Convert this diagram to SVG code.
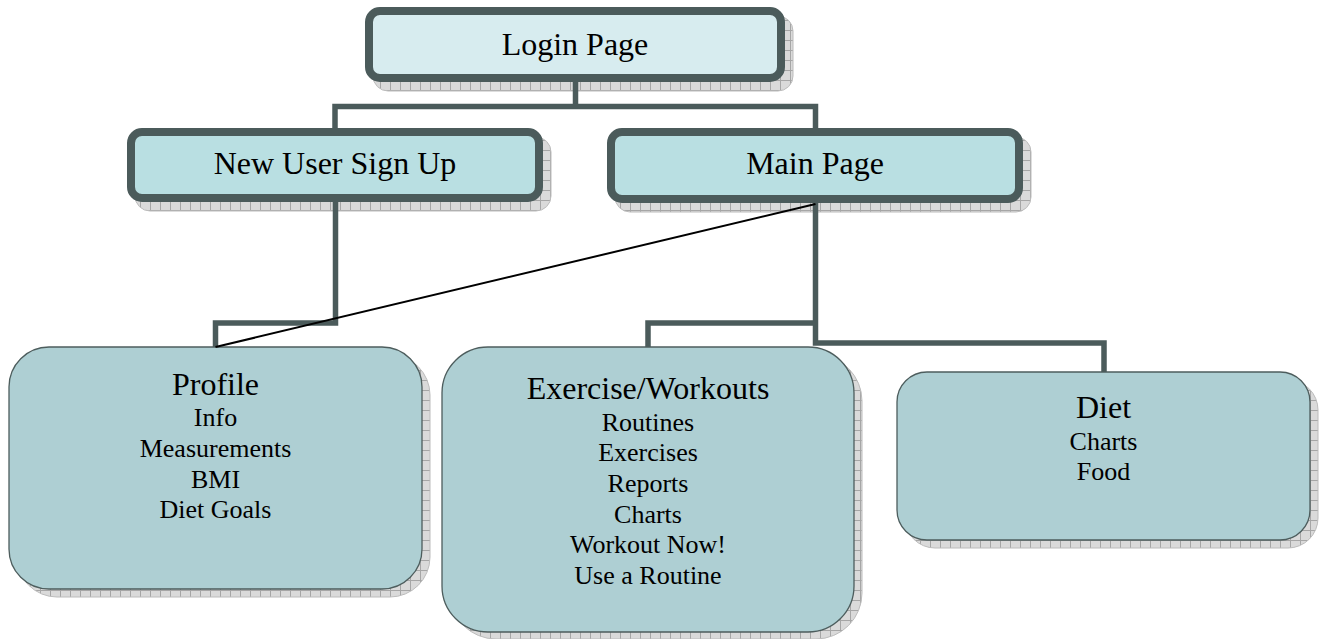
<svg xmlns="http://www.w3.org/2000/svg" width="1326" height="639" viewBox="0 0 1326 639">
  <defs>
    <pattern id="grid" width="10" height="10" patternUnits="userSpaceOnUse">
      <rect width="10" height="10" fill="#dadada"/>
      <path d="M0 0.5H10M0.5 0V10" stroke="#a6a6a6" stroke-width="1"/>
    </pattern>
  </defs>
  <style>
    .shadow { fill: url(#grid); stroke: #bcbcbc; stroke-width: 1; }
    .page { stroke: #4b5b5b; stroke-width: 8; }
    .top { fill: #d7ecef; }
    .mid { fill: #b9dfe2; }
    .section { fill: #aecfd3; stroke: #4d5d5d; stroke-width: 1.3; }
    .t { font-family: "Liberation Serif", "Times New Roman", serif; fill: #000; text-anchor: middle; }
    .title { font-size: 32px; }
    .item { font-size: 26px; }
    .link { fill: none; stroke: #4b5b5b; stroke-width: 5.5; stroke-linejoin: miter; stroke-linecap: butt; }
    .cross { fill: none; stroke: #000; stroke-width: 2; }
  </style>

  <g id="login">
    <rect class="shadow" x="373" y="16" width="420" height="75" rx="15"/>
    <rect class="page top" x="369" y="11" width="412" height="67" rx="11"/>
    <text class="t title" x="575" y="55">Login Page</text>
  </g>

  <g id="signup">
    <rect class="shadow" x="135" y="137" width="416" height="74" rx="15"/>
    <rect class="page mid" x="131" y="132" width="408" height="66" rx="11"/>
    <text class="t title" x="335" y="174">New User Sign Up</text>
  </g>

  <g id="main">
    <rect class="shadow" x="615" y="137" width="416" height="75" rx="15"/>
    <rect class="page mid" x="611" y="132" width="408" height="67" rx="11"/>
    <text class="t title" x="815" y="174">Main Page</text>
  </g>

  <g id="profile">
    <rect class="shadow" x="17" y="355" width="413" height="242" rx="40"/>
    <rect class="section" x="9" y="347" width="413" height="242" rx="40"/>
    <text class="t title" x="215.5" y="395">Profile</text>
    <text class="t item" x="215.5" y="426">Info</text>
    <text class="t item" x="215.5" y="457">Measurements</text>
    <text class="t item" x="215.5" y="488">BMI</text>
    <text class="t item" x="215.5" y="518">Diet Goals</text>
  </g>

  <g id="exercise">
    <rect class="shadow" x="450" y="355" width="412" height="284" rx="46"/>
    <rect class="section" x="442" y="347" width="412" height="285" rx="46"/>
    <text class="t title" x="648" y="399">Exercise/Workouts</text>
    <text class="t item" x="648" y="431">Routines</text>
    <text class="t item" x="648" y="461">Exercises</text>
    <text class="t item" x="648" y="492">Reports</text>
    <text class="t item" x="648" y="523">Charts</text>
    <text class="t item" x="648" y="553">Workout Now!</text>
    <text class="t item" x="648" y="584">Use a Routine</text>
  </g>

  <g id="diet">
    <rect class="shadow" x="905" y="380" width="413" height="168" rx="30"/>
    <rect class="section" x="897" y="372" width="413" height="168" rx="30"/>
    <text class="t title" x="1103.5" y="418">Diet</text>
    <text class="t item" x="1103.5" y="450">Charts</text>
    <text class="t item" x="1103.5" y="480">Food</text>
  </g>

  <g id="connectors">
    <path class="link" d="M575.5,82 V106.5"/>
    <path class="link" d="M335,128 V106.5 H815.5 V128"/>
    <path class="link" d="M335.5,202 V323 H215.5 V347"/>
    <path class="link" d="M815.5,203 V343 H1104 V372"/>
    <path class="link" d="M815.5,323 H648 V347"/>
    <path class="cross" d="M215.5,347 L815.5,204"/>
  </g>
</svg>
